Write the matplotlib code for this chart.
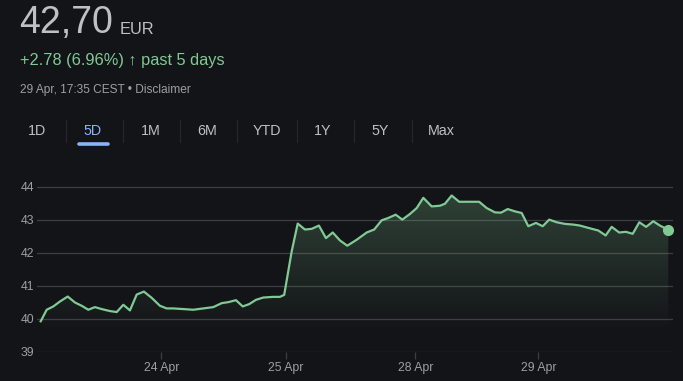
import numpy as np
import matplotlib.pyplot as plt
from matplotlib.colors import LinearSegmentedColormap

# trading hours since 23 Apr open, prices in EUR
hours = [0, 0.41, 0.86, 1.31, 1.84, 2.33, 2.79, 3.24, 3.69, 4.15, 4.71, 5.17, 5.62,
         6.07, 6.53, 7.02, 7.55, 8.11, 8.57, 9.02, 9.70, 10.38, 11.06, 11.74, 12.31,
         12.76, 13.28, 13.74, 14.18, 14.64, 15.14, 15.82, 16.27, 16.56, 17.07, 17.48,
         17.97, 18.43, 18.92, 19.40, 19.86, 20.35, 20.85, 21.49, 22.17, 22.68, 23.19,
         23.64, 24.14, 24.59, 25.11, 25.57, 26.02, 26.59, 27.15, 27.49, 27.95, 28.46,
         29.08, 29.82, 30.33, 30.89, 31.30, 31.76, 32.25, 32.71, 33.16, 33.68, 34.14,
         34.58, 35.09, 35.65, 36.22, 36.67, 37.24, 37.92, 38.42, 38.83, 39.34, 39.80,
         40.26, 40.71, 41.17, 41.66, 42.11, 42.68]
prices = [39.93, 40.28, 40.38, 40.53, 40.68, 40.50, 40.40, 40.28, 40.36, 40.30, 40.24,
          40.21, 40.43, 40.26, 40.74, 40.83, 40.64, 40.40, 40.32, 40.32, 40.30, 40.28,
          40.32, 40.36, 40.48, 40.51, 40.57, 40.38, 40.45, 40.58, 40.65, 40.67, 40.67,
          40.73, 42.05, 42.89, 42.71, 42.73, 42.83, 42.45, 42.62, 42.38, 42.22, 42.40,
          42.62, 42.71, 42.99, 43.06, 43.16, 43.01, 43.18, 43.36, 43.67, 43.41, 43.43,
          43.49, 43.74, 43.55, 43.55, 43.55, 43.36, 43.23, 43.22, 43.33, 43.26, 43.21,
          42.81, 42.91, 42.81, 43.01, 42.93, 42.88, 42.86, 42.83, 42.76, 42.68, 42.53,
          42.79, 42.62, 42.64, 42.58, 42.93, 42.79, 42.96, 42.83, 42.70]
day_ticks = [8.20, 16.65, 25.47, 33.84]
day_labels = ['24 Apr', '25 Apr', '28 Apr', '29 Apr']
y_ticks = [39, 40, 41, 42, 43, 44]
ranges = ['1D', '5D', '1M', '6M', 'YTD', '1Y', '5Y', 'Max']
range_x = [37, 93, 151, 207, 267, 323, 380, 441]

bg = '#131417'
green = '#81c995'
grey = '#9aa0a6'
font = ['Liberation Sans', 'DejaVu Sans']
plt.rcParams['font.family'] = font

W, H = 683, 381
fig = plt.figure(figsize=(W / 100, H / 100), dpi=100, facecolor=bg)

# header texts (pixel positions converted to figure fractions)
def ft(x, y, s, **kw):
    fig.text(x / W, 1 - y / H, s, **kw)

ft(19, 23, '42,70', fontsize=27, color='#bdc1c6', va='center')
ft(120, 30, 'EUR', fontsize=11.8, color='#bdc1c6', va='center')
ft(20, 61, '+2.78 (6.96%) \u2191 past 5 days', fontsize=11.8, color=green, va='center')
ft(20, 90, '29 Apr, 17:35 CEST \u2022 Disclaimer', fontsize=8.6, color=grey, va='center')

for lab, xp in zip(ranges, range_x):
    ft(xp, 131, lab, fontsize=10.3, color='#8ab4f8' if lab == '5D' else '#bdc1c6',
       ha='center', va='center')
for xs in [65.7, 122.7, 180, 236.7, 297.3, 354.3, 411.7]:
    fig.add_artist(plt.Line2D([xs / W, xs / W], [1 - 120 / H, 1 - 142 / H],
                              color='#25272b', lw=0.8))
fig.add_artist(plt.Line2D([79 / W, 108 / W], [1 - 143.5 / H, 1 - 143.5 / H],
                          color='#8ab4f8', lw=2.6, solid_capstyle='round'))

# chart
ax = fig.add_axes([37 / W, 1 - 352 / H, 636 / W, 172 / H])
ax.set_facecolor(bg)
ax.set_xlim(-0.25, 43.0)
ax.set_ylim(39, 44.21)

for yv in y_ticks:
    ax.axhline(yv, color='#3c3e43', lw=0.9, zorder=0)

poly = ax.fill_between(hours, prices, 39, color='none', lw=0)
cmap = LinearSegmentedColormap.from_list('fade', [(0.506, 0.788, 0.584, 0.0),
                                                   (0.506, 0.788, 0.584, 0.27)])
grad = np.linspace(0, 1, 256).reshape(-1, 1)
img = ax.imshow(grad, cmap=cmap, aspect='auto', origin='lower',
                extent=[hours[0], hours[-1], 39.6, 44.0], zorder=1)
img.set_clip_path(poly.get_paths()[0], transform=ax.transData)

ax.plot(hours, prices, color=green, lw=1.6, zorder=3, solid_joinstyle='round')
ax.plot(hours[-1], prices[-1], 'o', color=green, ms=7, zorder=4)

ax.set_yticks(y_ticks)
ax.set_xticks(day_ticks, day_labels)
ax.tick_params(axis='y', length=0, pad=2, labelsize=8.8, labelcolor=grey)
ax.tick_params(axis='x', length=5, width=0.9, color='#3c3e43', pad=2,
               labelsize=8.8, labelcolor=grey)
for s in ax.spines.values():
    s.set_visible(False)

fig.savefig('out.png', dpi=100, facecolor=bg)
